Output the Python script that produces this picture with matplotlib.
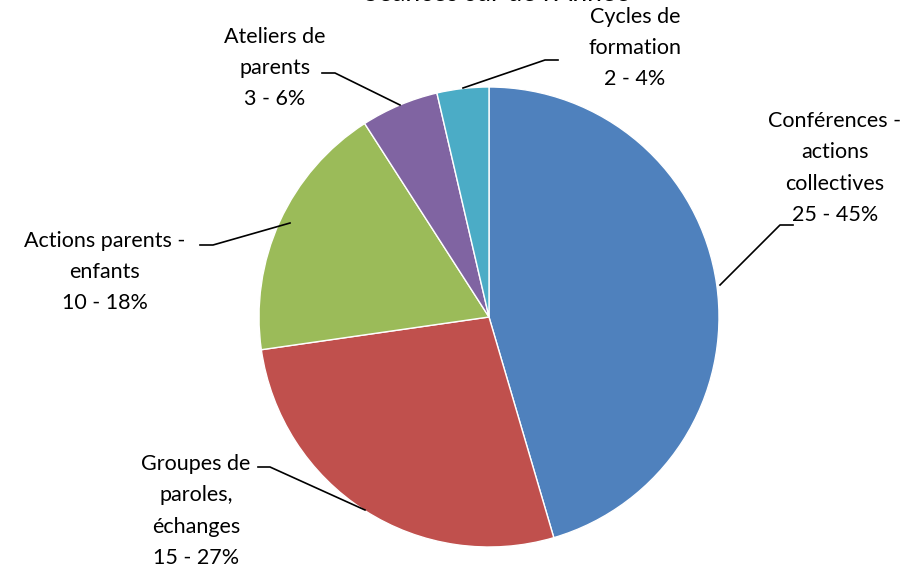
import matplotlib.pyplot as plt

# data
labels = ['Conférences -\nactions\ncollectives', 'Groupes de\nparoles,\néchanges',
          'Actions parents -\nenfants', 'Ateliers de\nparents', 'Cycles de\nformation']
counts = [25, 15, 10, 3, 2]
percents = [45, 27, 18, 6, 4]
colors = ['#4F81BD', '#C0504D', '#9BBB59', '#8064A2', '#4BACC6']
title = "Séances sur de l'Année"

W, H = 920, 569
fig = plt.figure(figsize=(W / 100, H / 100), dpi=100)
ax = fig.add_axes([0, 0, 1, 1])
plt.rcParams['font.family'] = ['Lato', 'DejaVu Sans']

cx, cy, r = 489, H - 317, 230
ax.pie(counts, colors=colors, startangle=90, counterclock=False,
       center=(cx, cy), radius=r,
       wedgeprops=dict(edgecolor='white', linewidth=1))
ax.set_xlim(0, W)
ax.set_ylim(0, H)
ax.set_aspect('equal')
ax.axis('off')

# label text positions (pixel coords from top) and leader lines
text_pos = [(835, 168), (196, 511), (105, 272), (275, 68), (635, 48)]
leaders = [
    [(720, 285), (780, 225), (793, 225)],
    [(365, 510), (270, 467), (258, 467)],
    [(290, 223), (213, 245), (200, 245)],
    [(400, 105), (335, 73), (322, 73)],
    [(463, 88), (545, 60), (558, 60)],
]

for lab, n, p, (tx, ty), pts in zip(labels, counts, percents, text_pos, leaders):
    ax.text(tx, H - ty, '%s\n%d - %d%%' % (lab, n, p), ha='center', va='center',
            fontsize=15.5, linespacing=1.7, color='black')
    ax.plot([x for x, y in pts], [H - y for x, y in pts], color='black', lw=1.2)

ax.text(497, H - 1, title, ha='center', va='baseline', fontsize=19, color='black')

fig.savefig('out.png', dpi=100)
